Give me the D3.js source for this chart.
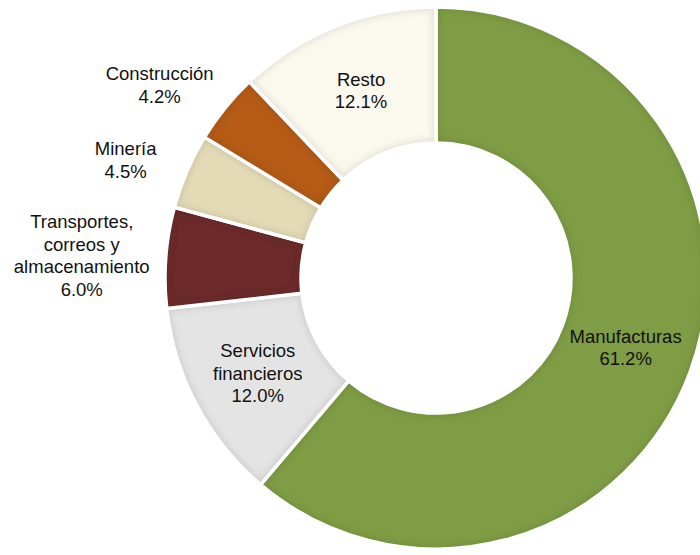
<!DOCTYPE html>
<html>
<head>
<meta charset="utf-8">
<script src="https://cdn.jsdelivr.net/npm/d3@7"></script>
<style>
  body { margin: 0; background: #fff; }
  .lbl { font-family: "Liberation Sans", Arial, sans-serif; font-size: 18.5px; fill: #111; }
</style>
</head>
<body>
<div class="chart"></div>
<script>
// Distribucion por sector (%)
var sectors = ["Manufacturas", "Servicios financieros", "Transportes, correos y almacenamiento", "Minería", "Construcción", "Resto"];
var shares = [61.2, 12.0, 6.0, 4.5, 4.2, 12.1];
var labelLines = [
    ["Manufacturas"],
    ["Servicios", "financieros"],
    ["Transportes,", "correos y", "almacenamiento"],
    ["Minería"],
    ["Construcción"],
    ["Resto"]
];
var sliceColors = ["#7f9d45", "#e4e4e4", "#6c2a2a", "#e3dbb6", "#b55b16", "#fbf9ee"];

var svgWidth = 700;
var svgHeight = 555;

var cx = 436, cy = 278;
var outerR = 271, innerR = 135;

var svg = d3.select(".chart")
    .append("svg")
    .attr("width", svgWidth)
    .attr("height", svgHeight);

var data = sectors.map(function(s, i) {
    return { name: s, value: shares[i], lines: labelLines[i], color: sliceColors[i] };
});

var pie = d3.pie()
    .sort(null)
    .value(d => d.value);

var arcs = pie(data);

var arc = d3.arc()
    .innerRadius(innerR)
    .outerRadius(outerR);

var defs = svg.append("defs");

// soft inner bevel
var blur = defs.append("filter").attr("id", "soft");
blur.append("feGaussianBlur").attr("stdDeviation", 3);

var g = svg.append("g")
    .attr("transform", `translate(${cx}, ${cy})`);

arcs.forEach(function(d, i) {
    defs.append("clipPath").attr("id", "clip" + i)
        .append("path").attr("d", arc(d));
});

var slices = g.selectAll("g.slice")
    .data(arcs)
    .enter()
    .append("g")
    .attr("class", "slice");

slices.append("path")
    .attr("d", arc)
    .attr("fill", d => d.data.color);

// edge shading clipped to each slice
slices.append("path")
    .attr("d", arc)
    .attr("clip-path", (d, i) => `url(#clip${i})`)
    .attr("fill", "none")
    .attr("stroke", d => d3.color(d.data.color).darker(0.6))
    .attr("stroke-opacity", 0.45)
    .attr("stroke-width", 8)
    .attr("filter", "url(#soft)");

slices.append("path")
    .attr("d", arc)
    .attr("fill", "none")
    .attr("stroke", "#fff")
    .attr("stroke-width", 3.5)
    .attr("stroke-linejoin", "round");

// where the outside labels sit (angle in degrees clockwise from top, radius)
var outsideLabel = {
    "Transportes, correos y almacenamiento": { a: 273.6, r: 355 },
    "Minería": { a: 290.8, r: 332 },
    "Construcción": { a: 304.9, r: 337 }
};
var insideR = 202;
var lineH = 22.5;

arcs.forEach(function(d) {
    var a, r;
    var spec = outsideLabel[d.data.name];
    if (spec) {
        a = spec.a * Math.PI / 180;
        r = spec.r;
    } else {
        a = (d.startAngle + d.endAngle) / 2;
        r = insideR;
    }
    var x = r * Math.sin(a);
    var y = -r * Math.cos(a);
    var lines = d.data.lines.concat([d.data.value.toFixed(1) + "%"]);
    var t = g.append("text")
        .attr("class", "lbl")
        .attr("text-anchor", "middle")
        .attr("x", x)
        .attr("y", y - (lines.length - 1) * lineH / 2)
        .attr("dy", "0.35em");
    lines.forEach(function(l, k) {
        t.append("tspan")
            .attr("x", x)
            .attr("dy", k === 0 ? "0.35em" : lineH)
            .text(l);
    });
});
</script>
</body>
</html>
